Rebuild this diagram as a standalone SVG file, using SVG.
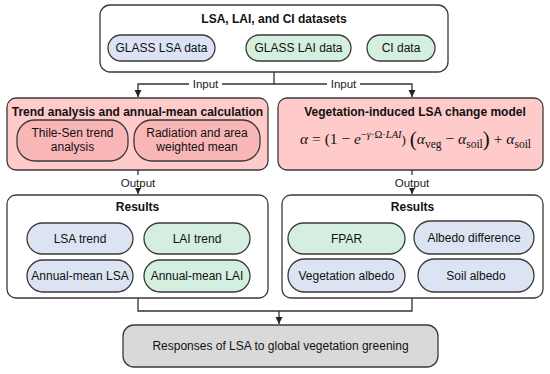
<svg xmlns="http://www.w3.org/2000/svg" width="550" height="374" viewBox="0 0 550 374">
<defs>
<style>
.box{stroke:#3a3a3a;stroke-width:1.3}
.w{fill:#ffffff}
.pk{fill:#ffcaca}
.pkp{fill:#f9b6b6}
.bl{fill:#dce4f3}
.gr{fill:#d4efdf}
.gy{fill:#d9d9d9}
.t{font-family:"Liberation Sans",Arial,sans-serif;font-size:12px;fill:#111;text-anchor:middle}
.b{font-weight:bold}
.lbl{font-family:"Liberation Sans",Arial,sans-serif;font-size:11.5px;fill:#222;text-anchor:middle}
.ln{fill:none;stroke:#333;stroke-width:1.3}
.f{font-family:"Liberation Serif","Times New Roman",serif;font-size:15.5px;fill:#111}
</style>
<marker id="ar" markerWidth="8" markerHeight="8" refX="7" refY="4" orient="auto" markerUnits="userSpaceOnUse">
<path d="M0,0.5 L7,4 L0,7.5 Z" fill="#222"/>
</marker>
</defs>

<g id="datasets">
<rect class="box w" x="100" y="5" width="348" height="67" rx="10"/>
<text class="t b" x="274" y="23">LSA, LAI, and CI datasets</text>
</g>
<g id="glass-lsa">
<rect class="box bl" x="108" y="35" width="107" height="26" rx="13"/>
<text class="t" x="161.5" y="52">GLASS LSA data</text>
</g>
<g id="glass-lai">
<rect class="box gr" x="246" y="35" width="105" height="26" rx="13"/>
<text class="t" x="298.5" y="52">GLASS LAI data</text>
</g>
<g id="ci">
<rect class="box gr" x="367" y="35" width="68" height="26" rx="13"/>
<text class="t" x="401" y="52">CI data</text>
</g>

<g id="trend">
<rect class="box pk" x="7" y="98" width="261" height="72" rx="9"/>
<text class="t b" x="137.5" y="116">Trend analysis and annual-mean calculation</text>
</g>
<g id="thile-sen">
<rect class="box pkp" x="17" y="120" width="111" height="41" rx="18"/>
<text class="t" x="72.5" y="137">Thile-Sen trend</text>
<text class="t" x="72.5" y="151">analysis</text>
</g>
<g id="radiation">
<rect class="box pkp" x="134" y="120" width="126" height="41" rx="18"/>
<text class="t" x="197" y="137">Radiation and area</text>
<text class="t" x="197" y="151">weighted mean</text>
</g>

<g id="model">
<rect class="box pk" x="278" y="98" width="265" height="72" rx="9"/>
<text class="t b" x="415" y="116">Vegetation-induced LSA change model</text>
<text class="f" x="300" y="144"><tspan font-style="italic">α</tspan> = (1 − <tspan font-style="italic">e</tspan><tspan font-size="10.5" dy="-6.5"><tspan>−</tspan><tspan font-style="italic">γ</tspan>·Ω·<tspan font-style="italic">LAI</tspan></tspan><tspan dy="6.5" font-size="13">)</tspan> <tspan font-size="21" dy="1.5">(</tspan><tspan dy="-1.5" font-style="italic">α</tspan><tspan font-size="11.5" dy="3.5">veg</tspan><tspan dy="-3.5"> − </tspan><tspan font-style="italic">α</tspan><tspan font-size="11.5" dy="3.5">soil</tspan><tspan font-size="21" dy="-2">)</tspan><tspan dy="-1.5"> + </tspan><tspan font-style="italic">α</tspan><tspan font-size="11.5" dy="3.5">soil</tspan></text>
</g>

<g id="results-left">
<rect class="box w" x="7" y="195" width="261" height="103" rx="9"/>
<text class="t b" x="137.5" y="211">Results</text>
</g>
<g id="lsa-trend">
<rect class="box bl" x="27" y="223" width="106" height="31" rx="15.5"/>
<text class="t" x="80" y="243">LSA trend</text>
</g>
<g id="lai-trend">
<rect class="box gr" x="144" y="223" width="106" height="31" rx="15.5"/>
<text class="t" x="197" y="243">LAI trend</text>
</g>
<g id="annual-lsa">
<rect class="box bl" x="27" y="260" width="106" height="32" rx="16"/>
<text class="t" x="80" y="280">Annual-mean LSA</text>
</g>
<g id="annual-lai">
<rect class="box gr" x="144" y="260" width="106" height="32" rx="16"/>
<text class="t" x="197" y="280">Annual-mean LAI</text>
</g>

<g id="results-right">
<rect class="box w" x="282" y="195" width="261" height="103" rx="9"/>
<text class="t b" x="412.5" y="211">Results</text>
</g>
<g id="fpar">
<rect class="box gr" x="288" y="223" width="117" height="31" rx="15.5"/>
<text class="t" x="346.5" y="243">FPAR</text>
</g>
<g id="albedo-diff">
<rect class="box bl" x="414" y="221" width="120" height="33" rx="16.5"/>
<text class="t" x="474" y="242">Albedo difference</text>
</g>
<g id="veg-albedo">
<rect class="box bl" x="288" y="259" width="117" height="33" rx="16.5"/>
<text class="t" x="346.5" y="280">Vegetation albedo</text>
</g>
<g id="soil-albedo">
<rect class="box bl" x="418" y="259" width="116" height="33" rx="16.5"/>
<text class="t" x="476" y="280">Soil albedo</text>
</g>

<g id="responses">
<rect class="box gy" x="123" y="325" width="315" height="42" rx="11"/>
<text class="t" x="280.5" y="350">Responses of LSA to global vegetation greening</text>
</g>

<g id="connectors">
<path class="ln" d="M274,72 V84 H138 V97" marker-end="url(#ar)"/>
<path class="ln" d="M274,84 H412 V97" marker-end="url(#ar)"/>
<rect x="189" y="77" width="33" height="13" fill="#ffffff"/>
<text class="lbl" x="205.5" y="88">Input</text>
<rect x="327" y="77" width="33" height="13" fill="#ffffff"/>
<text class="lbl" x="343.5" y="88">Input</text>
<path class="ln" d="M138,170 V194" marker-end="url(#ar)"/>
<rect x="117" y="175" width="42" height="13" fill="#ffffff"/>
<text class="lbl" x="138" y="187">Output</text>
<path class="ln" d="M412,170 V194" marker-end="url(#ar)"/>
<rect x="391" y="175" width="42" height="13" fill="#ffffff"/>
<text class="lbl" x="412" y="187">Output</text>
<path class="ln" d="M138,298 V311 H412 V298"/>
<path class="ln" d="M279,311 V324" marker-end="url(#ar)"/>
</g>
</svg>
